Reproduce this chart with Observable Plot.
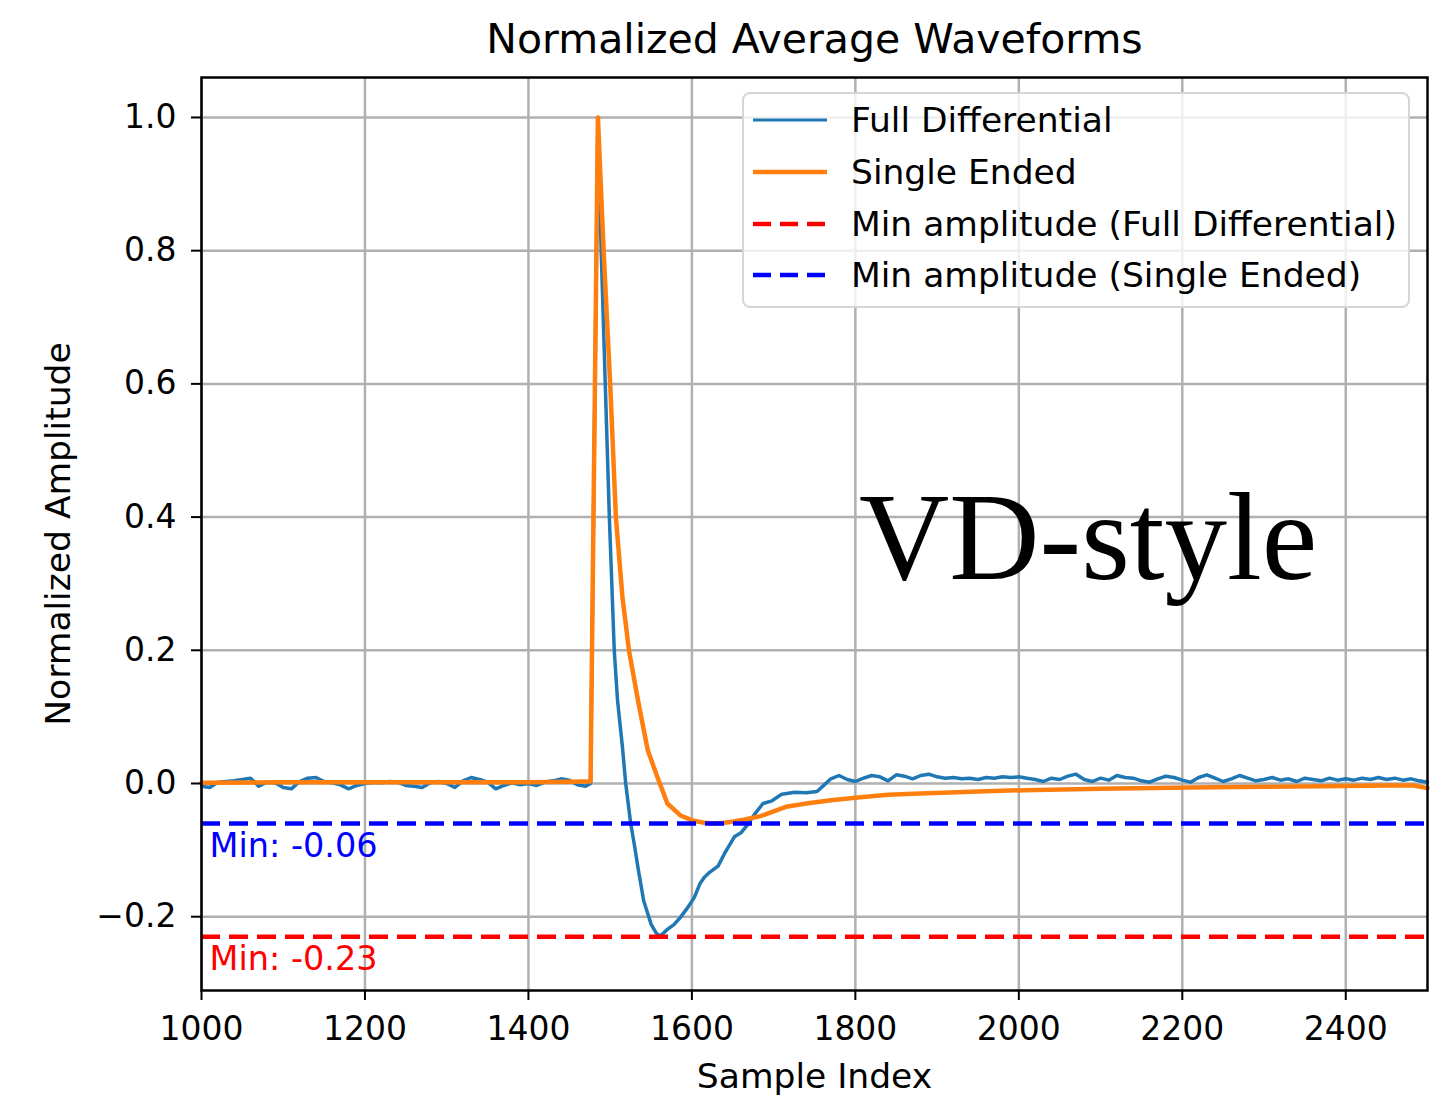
<!DOCTYPE html>
<html>
<head>
<meta charset="utf-8">
<script src="https://cdn.jsdelivr.net/npm/d3@7"></script>
<script src="https://cdn.jsdelivr.net/npm/@observablehq/plot@0.6"></script>
<style>
  body { margin: 0; background: #fff; }
  #wrap { position: relative; width: 1456px; height: 1096px; background: #fff; }
  #legend {
    position: absolute; left: 742px; top: 92px; width: 664px; height: 212px;
    border: 2px solid #d6d6d6; border-radius: 8px; background: rgba(255,255,255,0.8);
    font-family: 'DejaVu Sans', sans-serif; font-size: 34.5px; color: #000;
  }
  #legend .row { position: absolute; left: 0; height: 40px; display: flex; align-items: center; white-space: nowrap; }
  #legend svg { margin-left: 9px; margin-right: 24px; }
  #stamp {
    position: absolute; left: 859px; top: 475px; font-family: 'Liberation Serif', 'Times New Roman', serif;
    font-size: 125px; line-height: 1; color: #000; white-space: nowrap;
  }
</style>
</head>
<body>
<div id="wrap"></div>
<script>
// ---------- data ----------
const fullIndex = [
  1000,1010,1020,1030,1040,1050,1060,1070,1080,1090,1100,1110,1120,1130,1140,1150,1160,1170,1180,1190,
  1200,1210,1220,1230,1240,1250,1260,1270,1280,1290,1300,1310,1320,1330,1340,1350,1360,1370,1380,1390,
  1400,1410,1420,1430,1440,1450,1460,1470,1476,1485,1489,1494,1499,1505,1509,1515,1519,1525,1530,1534,
  1541,1550,1556,1560,1564,1570,1578,1586,1595,1603,1610,1615,1622,1632,1640,1652,1660,1668,1678,1687,
  1698,1710,1726,1740,1753,1762,1770,1780,1790,1800,1810,1820,1830,1840,1850,1860,1870,1880,1890,1900,
  1910,1920,1930,1940,1950,1960,1970,1980,1990,2000,2010,2020,2030,2040,2050,2060,2070,2080,2090,2100,
  2110,2120,2130,2140,2150,2160,2170,2180,2190,2200,2210,2220,2230,2240,2250,2260,2270,2280,2290,2300,
  2310,2320,2330,2340,2350,2360,2370,2380,2390,2400,2410,2420,2430,2440,2450,2460,2470,2480,2490,2500
];
const fullAmp = [
  -0.004,-0.006,0.002,0.003,0.004,0.006,0.008,-0.004,0.002,0.001,-0.006,-0.008,0.003,0.008,0.009,0.003,0.001,-0.002,-0.008,-0.003,
  0.000,0.002,0.001,0.003,0.002,-0.003,-0.004,-0.006,0.001,0.003,0.000,-0.006,0.004,0.009,0.006,0.002,-0.008,-0.003,0.001,-0.002,
  0.000,-0.003,0.002,0.004,0.007,0.005,-0.002,-0.004,0.000,1.000,0.800,0.600,0.400,0.200,0.125,0.055,0.000,-0.059,-0.095,-0.126,
  -0.176,-0.211,-0.224,-0.229,-0.226,-0.219,-0.212,-0.201,-0.186,-0.171,-0.150,-0.141,-0.133,-0.124,-0.105,-0.080,-0.074,-0.062,-0.044,-0.030,
  -0.026,-0.016,-0.013,-0.014,-0.012,-0.002,0.007,0.012,0.006,0.003,0.008,0.012,0.010,0.004,0.013,0.011,0.007,0.012,0.014,0.010,
  0.008,0.009,0.007,0.008,0.006,0.009,0.008,0.010,0.009,0.010,0.008,0.006,0.003,0.008,0.006,0.011,0.014,0.006,0.003,0.008,
  0.005,0.012,0.009,0.008,0.004,0.002,0.007,0.011,0.009,0.005,0.002,0.009,0.013,0.008,0.003,0.007,0.012,0.008,0.004,0.006,
  0.009,0.005,0.007,0.003,0.008,0.006,0.004,0.008,0.005,0.007,0.005,0.008,0.006,0.009,0.006,0.008,0.005,0.007,0.004,0.002
];
const singleIndex = [
  1000,1100,1200,1300,1400,1470,1476,1485,1492,1500,1507,1515,1523,1534,1546,1558,1570,1586,1602,1615,
  1627,1640,1651,1665,1684,1700,1715,1740,1770,1803,1840,1879,1950,2006,2100,2209,2300,2373,2450,2483,2500
];
const singleAmp = [
  0.001,0.002,0.002,0.002,0.002,0.003,0.003,1.000,0.800,0.600,0.400,0.280,0.200,0.125,0.050,0.009,-0.030,-0.048,-0.056,-0.059,
  -0.060,-0.059,-0.057,-0.054,-0.049,-0.042,-0.035,-0.030,-0.025,-0.021,-0.017,-0.015,-0.012,-0.010,-0.008,-0.006,-0.005,-0.004,-0.003,-0.003,-0.007
];
const minFull = -0.23;
const minSingle = -0.06;
const minFullLabel = "Min: -0.23";
const minSingleLabel = "Min: -0.06";
const xTicks = [1000,1200,1400,1600,1800,2000,2200,2400];
const yTicks = [-0.2,0.0,0.2,0.4,0.6,0.8,1.0];
const xDomain = [1000, 2500];
const yDomain = [-0.3108, 1.06];
const seriesNames = ["Full Differential", "Single Ended", "Min amplitude (Full Differential)", "Min amplitude (Single Ended)"];
const titleText = "Normalized Average Waveforms";
const xLabel = "Sample Index";
const yLabel = "Normalized Amplitude";
const stampText = "VD-style";

// ---------- styles ----------
const C_FULL = "#1f77b4", C_SINGLE = "#ff7f0e", C_RED = "#ff0000", C_BLUE = "#0000ff";
const DASH = "19,9";

const fd = fullIndex.map((x, i) => ({x, y: fullAmp[i]}));
const se = singleIndex.map((x, i) => ({x, y: singleAmp[i]}));

const chart = Plot.plot({
  width: 1456, height: 1096,
  marginLeft: 201, marginRight: 29, marginTop: 77, marginBottom: 106,
  style: {fontFamily: "'DejaVu Sans', sans-serif", fontSize: "33px", color: "#000", background: "#fff", overflow: "visible"},
  x: {domain: xDomain},
  y: {domain: yDomain},
  marks: [
    Plot.gridX(xTicks, {stroke: "#b0b0b0", strokeOpacity: 1, strokeWidth: 2.5}),
    Plot.gridY(yTicks, {stroke: "#b0b0b0", strokeOpacity: 1, strokeWidth: 2.5}),
    Plot.line(fd, {x: "x", y: "y", stroke: C_FULL, strokeWidth: 3.5}),
    Plot.line(se, {x: "x", y: "y", stroke: C_SINGLE, strokeWidth: 4.5}),
    Plot.ruleY([minFull], {stroke: C_RED, strokeWidth: 4.5, strokeDasharray: DASH}),
    Plot.ruleY([minSingle], {stroke: C_BLUE, strokeWidth: 4.5, strokeDasharray: DASH}),
    Plot.text([minFull], {y: d => d, frameAnchor: "left", text: () => minFullLabel, fill: C_RED, textAnchor: "start", lineAnchor: "top", dx: 8, dy: 10, fontSize: 33.5}),
    Plot.text([minSingle], {y: d => d, frameAnchor: "left", text: () => minSingleLabel, fill: C_BLUE, textAnchor: "start", lineAnchor: "top", dx: 8, dy: 10, fontSize: 33.5}),
    Plot.frame({stroke: "#000", strokeWidth: 2.5}),
    Plot.axisX(xTicks, {tickSize: 10, tickPadding: 16, tickFormat: d => String(d), strokeWidth: 2, label: null, fontSize: 33}),
    Plot.axisY(yTicks, {tickSize: 10, tickPadding: 15, tickFormat: d3.format(".1f"), strokeWidth: 2, label: null, fontSize: 33}),
    Plot.text([yLabel], {frameAnchor: "left", textAnchor: "middle", dx: -143, rotate: -90, fontSize: 34.5}),
    Plot.text([xLabel], {frameAnchor: "bottom", dy: 97, fontSize: 34.5}),
    Plot.text([titleText], {frameAnchor: "top", dy: -54, fontSize: 41})
  ]
});

const wrap = document.getElementById("wrap");
wrap.appendChild(chart);

// legend
const legend = document.createElement("div");
legend.id = "legend";
const legendStyles = [
  {stroke: C_FULL, width: 3.2, dash: null},
  {stroke: C_SINGLE, width: 4.5, dash: null},
  {stroke: C_RED, width: 4.5, dash: "18,9"},
  {stroke: C_BLUE, width: 4.5, dash: "18,9"}
];
const rowTops = [6, 58, 110, 161];
seriesNames.forEach((name, i) => {
  const row = document.createElement("div");
  row.className = "row";
  row.style.top = rowTops[i] + "px";
  const s = legendStyles[i];
  row.innerHTML = `<svg width="74" height="20"><line x1="0" x2="74" y1="10" y2="10" stroke="${s.stroke}" stroke-width="${s.width}" ${s.dash ? `stroke-dasharray="${s.dash}"` : ""}/></svg><span>${name}</span>`;
  legend.appendChild(row);
});
wrap.appendChild(legend);

const stamp = document.createElement("div");
stamp.id = "stamp";
stamp.textContent = stampText;
wrap.appendChild(stamp);
</script>
</body>
</html>
